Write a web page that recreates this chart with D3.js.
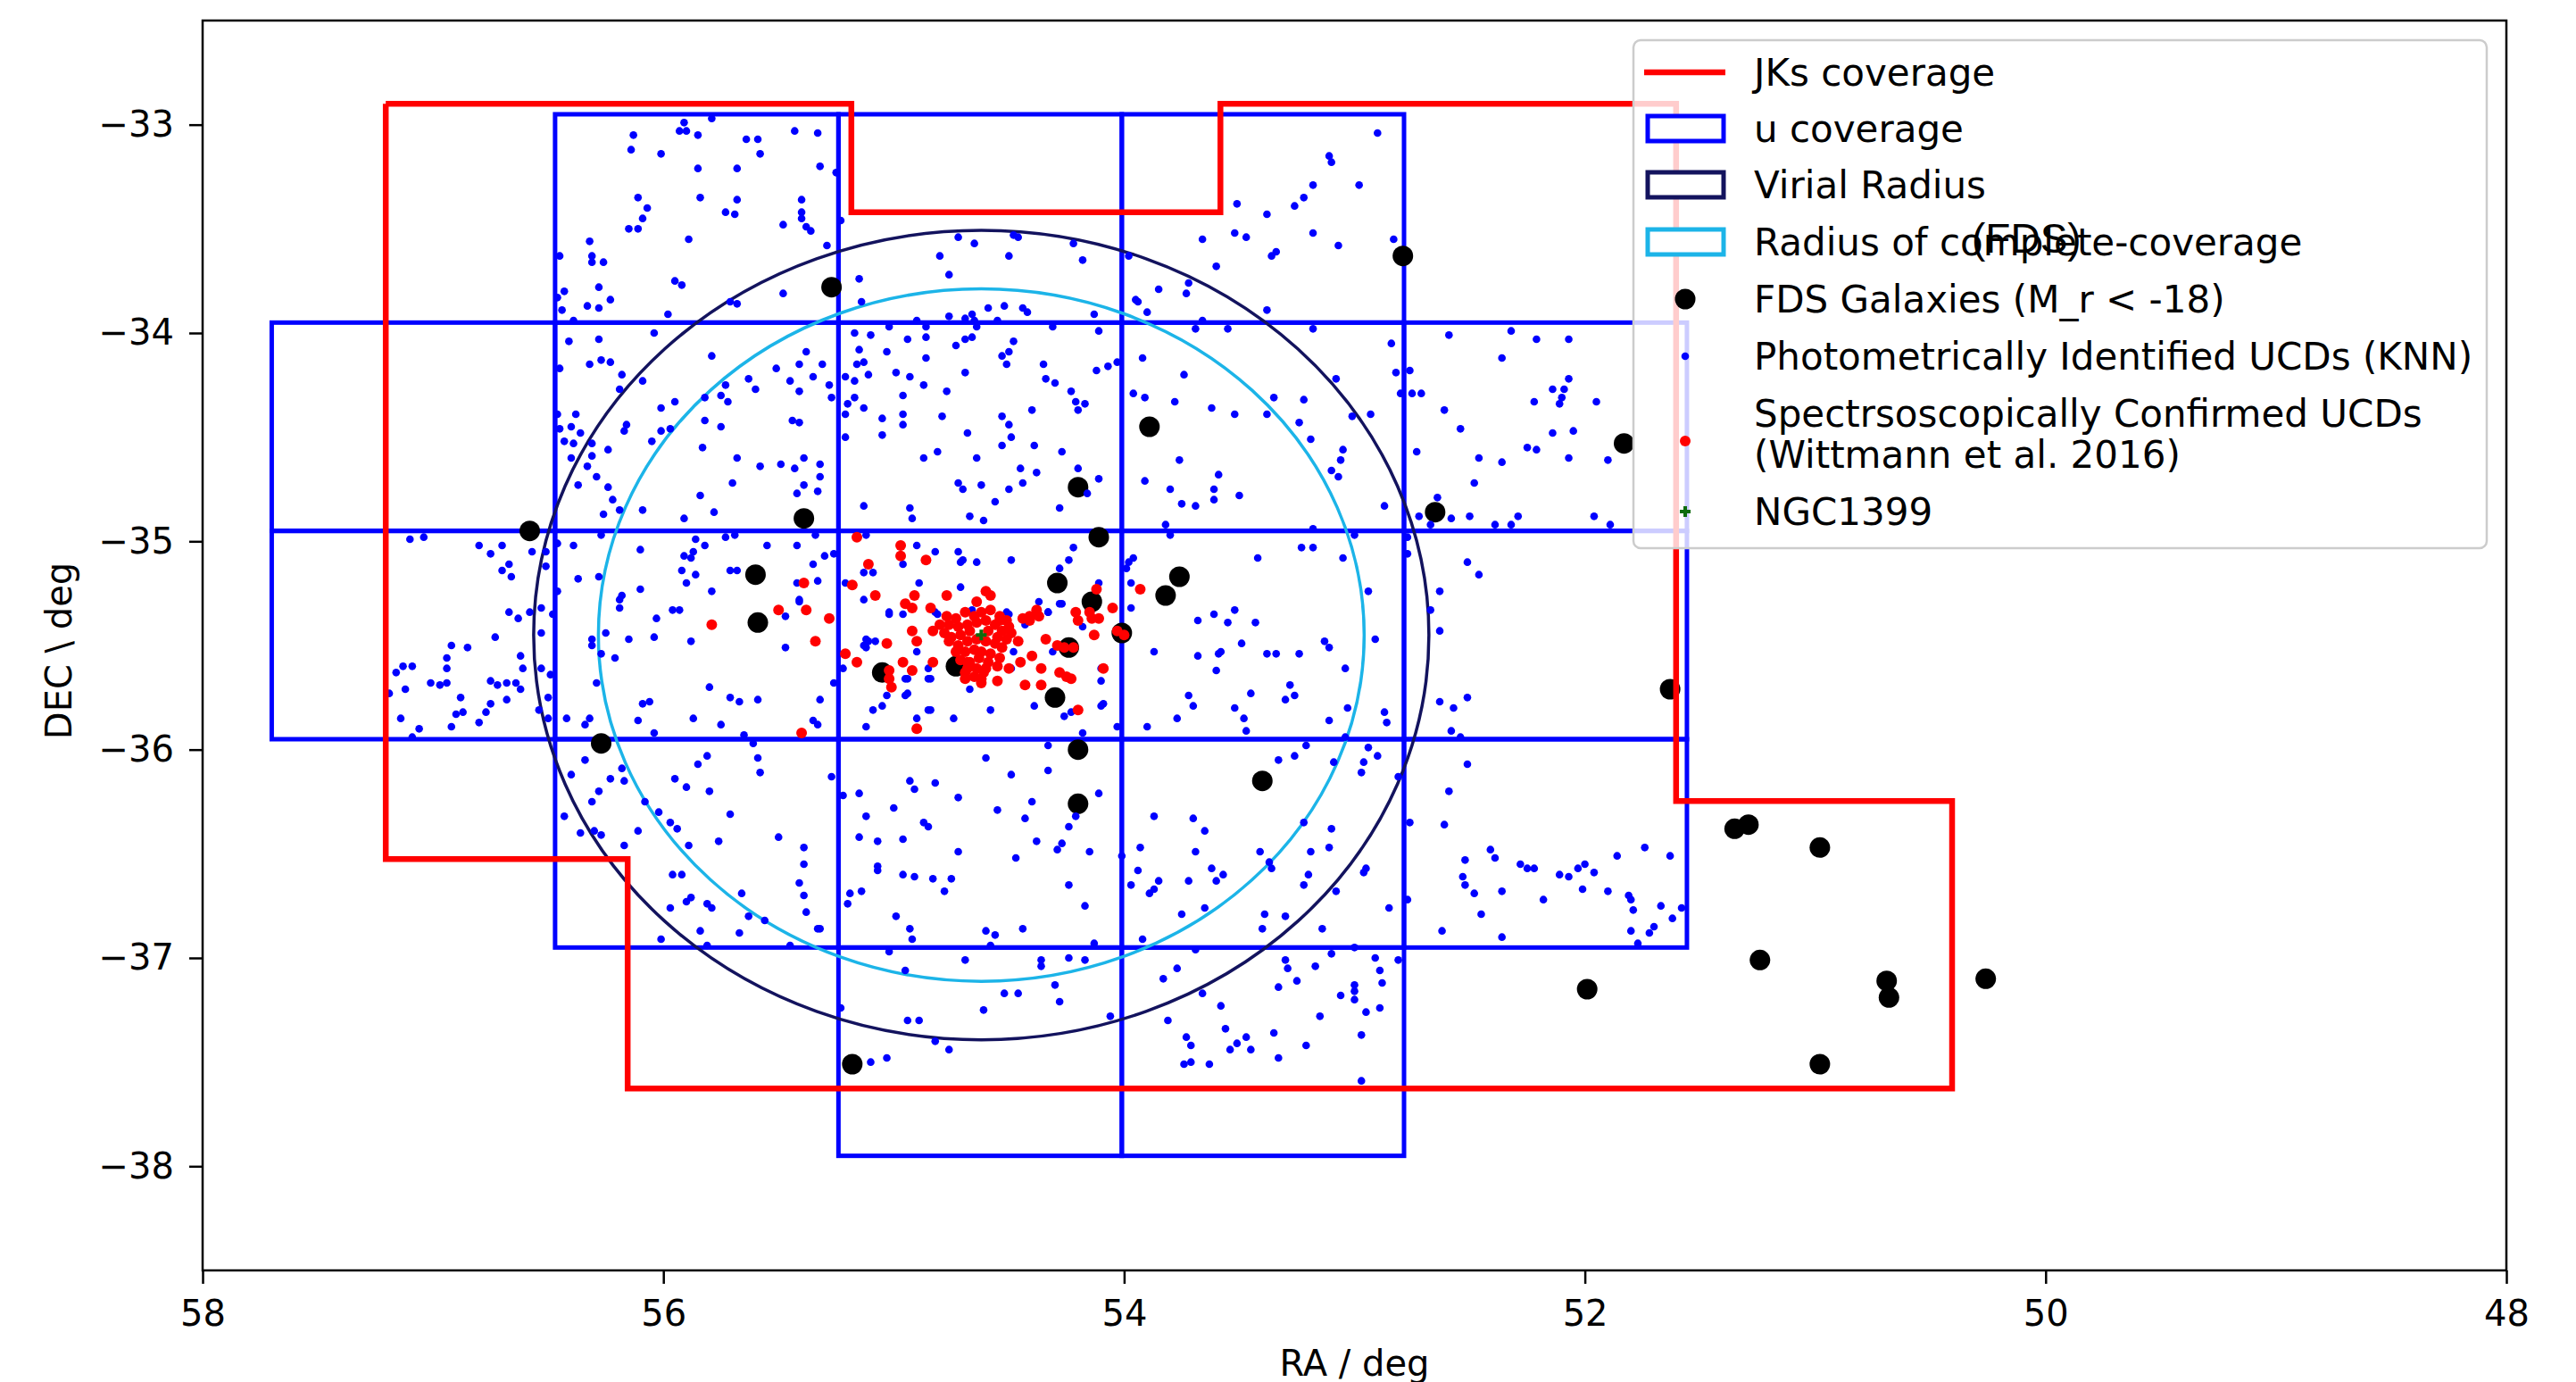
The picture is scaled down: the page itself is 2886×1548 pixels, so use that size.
<!DOCTYPE html>
<html>
<head>
<meta charset="utf-8">
<script src="https://cdn.jsdelivr.net/npm/d3@7"></script>
<style>
body { margin: 0; background: #fff; }
svg text { font-family: "DejaVu Sans", sans-serif; fill: #000; }
</style>
</head>
<body>
<svg id="chart"></svg>
<script>
// ---- data (RA / Dec in degrees) ----
var xTicks = [58, 56, 54, 52, 50, 48];
var yTicks = [-33, -34, -35, -36, -37, -38];

// JKs coverage outline
var jksRA  = [57.205, 55.184, 55.184, 53.582, 53.582, 51.604, 51.604, 50.406, 50.406, 56.155, 56.155, 57.205, 57.205];
var jksDec = [-32.90, -32.90, -33.42, -33.42, -32.90, -32.90, -36.247, -36.247, -37.627, -37.627, -36.525, -36.525, -32.90];

// u coverage tiles: column edges (RA) and row edges (Dec)
var uColEdges = [57.70, 56.47, 55.24, 54.01, 52.785, 51.557];
var uRowEdges = [-32.95, -33.95, -34.95, -35.95, -36.95, -37.95];
var uTiles = [[1,0],[2,0],[3,0],
              [0,1],[1,1],[2,1],[3,1],[4,1],
              [0,2],[1,2],[2,2],[3,2],[4,2],
              [1,3],[2,3],[3,3],[4,3],
              [2,4],[3,4]];

var ngc1399 = [54.62, -35.45];
var virialRadius = 1.943;
var completeRadius = 1.662;

var galaxies = [[56.58,-34.95],[55.27,-33.78],[52.79,-33.63],[53.89,-34.45],[51.83,-34.53],[54.20,-34.74],[52.65,-34.86],
  [55.39,-34.89],[54.11,-34.98],[55.60,-35.16],[55.59,-35.39],[54.29,-35.20],[53.76,-35.17],[53.82,-35.26],[54.14,-35.29],
  [54.01,-35.44],[54.24,-35.51],[55.05,-35.63],[54.73,-35.60],[54.30,-35.75],[51.63,-35.71],[56.27,-35.97],[54.20,-36.00],
  [53.40,-36.15],[54.20,-36.26],[51.35,-36.38],[51.29,-36.36],[50.98,-36.47],[51.99,-37.15],[51.24,-37.01],[50.69,-37.11],
  [50.68,-37.19],[50.26,-37.10],[50.98,-37.51],[55.18,-37.51]];

var photUCDs = [
  [55.91,-32.99],[55.79,-32.97],[55.93,-33.03],[55.90,-33.03],[55.85,-33.05],[56.13,-33.05],[56.14,-33.12],[56.01,-33.14],[55.64,-33.07],[55.59,-33.07],
  [55.58,-33.14],[55.43,-33.03],[55.33,-33.04],[55.85,-33.21],[55.68,-33.21],[55.32,-33.20],[56.11,-33.35],[56.07,-33.40],[56.09,-33.45],[56.15,-33.50],
  [56.11,-33.50],[55.84,-33.35],[55.68,-33.36],[55.73,-33.42],[55.69,-33.43],[55.40,-33.36],[55.40,-33.42],[55.40,-33.45],[55.38,-33.49],[55.36,-33.51],
  [55.48,-33.48],[56.32,-33.56],[55.89,-33.55],[56.31,-33.63],[56.31,-33.66],[56.26,-33.66],[56.45,-33.63],[55.95,-33.75],[55.92,-33.77],[55.48,-33.81],
  [56.28,-33.78],[56.43,-33.80],[56.46,-33.83],[56.44,-33.89],[56.33,-33.87],[56.28,-33.88],[56.23,-33.84],[55.98,-33.91],[55.71,-33.85],[55.68,-33.86],
  [56.39,-33.94],
  [56.04,-34.00],[56.41,-34.04],[56.28,-34.03],[55.79,-34.11],[55.38,-34.09],[56.32,-34.15],[56.27,-34.13],[56.23,-34.14],[56.45,-34.17],[55.51,-34.17],
  [55.41,-34.15],[55.35,-34.21],[56.18,-34.20],[56.09,-34.23],[55.63,-34.22],[55.60,-34.27],[55.45,-34.23],[55.41,-34.28],[55.73,-34.25],[56.19,-34.27],
  [55.82,-34.31],[55.75,-34.30],[55.72,-34.33],[56.01,-34.36],[55.95,-34.33],[56.46,-34.39],[56.38,-34.39],[56.40,-34.45],[56.45,-34.46],[56.36,-34.48],
  [56.43,-34.52],[56.39,-34.53],[56.16,-34.44],[56.17,-34.47],[56.01,-34.47],[55.97,-34.46],[55.82,-34.42],[55.75,-34.45],[55.44,-34.42],[55.41,-34.43],
  [56.31,-34.53],[56.05,-34.52],[55.83,-34.55],[56.31,-34.59],[56.24,-34.56],[56.40,-34.60],[55.68,-34.60],[55.58,-34.64],[55.49,-34.63],[55.43,-34.65],
  [55.39,-34.60],[55.32,-34.63],[56.33,-34.64],[56.29,-34.69],[56.37,-34.73],[56.24,-34.74],[55.70,-34.72],[55.39,-34.73],[55.33,-34.76],[55.42,-34.77],
  [56.22,-34.80],[56.19,-34.85],[56.26,-34.87],[56.09,-34.85],[55.84,-34.78],[55.78,-34.86],[55.91,-34.89],
  [57.10,-34.99],[57.04,-34.98],[56.80,-35.02],[56.75,-35.06],[56.70,-35.02],[56.57,-35.05],[56.51,-35.05],[56.67,-35.11],[56.70,-35.14],[56.66,-35.17],
  [56.51,-35.12],[56.46,-35.01],[56.27,-34.97],[56.39,-35.02],[56.46,-35.24],[56.37,-35.18],[56.28,-35.17],[56.10,-35.04],[56.10,-35.23],[56.18,-35.26],
  [55.86,-34.99],[55.82,-35.02],[55.87,-35.05],[55.91,-35.07],[55.88,-35.08],[55.92,-35.14],[55.86,-35.16],[55.90,-35.20],[55.79,-35.24],[55.73,-34.98],
  [55.69,-34.97],[55.55,-35.02],[55.42,-35.02],[55.71,-35.14],[55.68,-35.14],[55.35,-35.11],[55.42,-35.20],[55.33,-35.19],[55.34,-34.97],[55.41,-35.28],
  [55.29,-33.58],[55.25,-33.23],[55.31,-34.15],[55.28,-34.25],[55.27,-34.31],[55.32,-34.69],[55.30,-35.07],
  [55.23,-33.46],[55.15,-33.74],[55.14,-33.85],[54.72,-33.54],[54.65,-33.57],[54.80,-33.63],[54.76,-33.72],[54.50,-33.63],[54.48,-33.53],[54.46,-33.54],
  [54.22,-33.57],[54.18,-33.65],[53.98,-33.63],[53.66,-33.55],[53.60,-33.68],[53.51,-33.38],[53.52,-33.52],[53.47,-33.54],[53.72,-33.76],[53.73,-33.81],
  [53.85,-33.79],[53.95,-33.84],[53.94,-33.85],[53.90,-33.90],[54.13,-33.91],[54.59,-33.88],[54.52,-33.87],[54.44,-33.88],[54.42,-33.90],[54.66,-33.91],
  [54.69,-33.93],[54.65,-33.94],[54.76,-33.92],[54.90,-33.94],[54.55,-33.94],
  [55.02,-33.97],[54.86,-33.97],[54.64,-33.97],[54.31,-33.97],[54.11,-33.99],[53.69,-33.98],[53.55,-33.98],[53.66,-33.94],[55.17,-34.00],[55.10,-34.01],
  [54.94,-34.03],[54.86,-34.02],[54.69,-34.03],[54.66,-34.02],[54.73,-34.06],[54.48,-34.04],[55.15,-34.08],[55.03,-34.09],[54.86,-34.12],[54.53,-34.11],
  [54.50,-34.09],[54.51,-34.15],[55.16,-34.15],[55.13,-34.14],[55.11,-34.20],[54.99,-34.19],[54.93,-34.21],[54.69,-34.19],[54.35,-34.15],[54.12,-34.18],
  [54.07,-34.16],[54.03,-34.14],[53.92,-34.12],[53.74,-34.20],[55.21,-34.21],[55.17,-34.23],[54.87,-34.25],[54.77,-34.28],[54.34,-34.22],[54.30,-34.24],
  [54.23,-34.28],[54.21,-34.33],[54.17,-34.34],[54.20,-34.37],[53.96,-34.29],[53.91,-34.31],[53.78,-34.33],[53.62,-34.36],[53.52,-34.39],[54.96,-34.30],
  [55.17,-34.31],[55.20,-34.34],[55.13,-34.36],[55.21,-34.39],[55.05,-34.41],[54.96,-34.39],[54.96,-34.44],[54.79,-34.40],[55.05,-34.49],[55.21,-34.50],
  [54.53,-34.40],[54.50,-34.44],[54.40,-34.37],[54.68,-34.48],[54.49,-34.50],[54.53,-34.54],[54.39,-34.54],[54.27,-34.57],[54.81,-34.57],[54.87,-34.60],
  [54.64,-34.60],[53.76,-34.61],[54.45,-34.65],[54.38,-34.67],[54.20,-34.65],[54.11,-34.70],[53.91,-34.71],[53.59,-34.68],[54.72,-34.72],[54.70,-34.75],
  [54.62,-34.73],[54.50,-34.75],[54.44,-34.72],[54.16,-34.77],[53.80,-34.75],[53.61,-34.75],[53.61,-34.80],[53.50,-34.78],[54.56,-34.81],[55.13,-34.83],
  [54.93,-34.84],[54.92,-34.89],[54.67,-34.88],[54.61,-34.90],[54.28,-34.84],[53.75,-34.82],[53.69,-34.83],[53.82,-34.92],[53.80,-34.97],
  [55.12,-34.97],[54.90,-35.02],[54.82,-35.05],[54.72,-35.05],[54.70,-35.09],[54.64,-35.10],[54.49,-35.09],[54.22,-35.03],[54.24,-35.09],[54.28,-35.13],
  [54.96,-35.11],[55.13,-35.15],[55.09,-35.15],[55.21,-35.20],[54.89,-35.20],[54.71,-35.22],[54.11,-35.20],[53.96,-35.08],[53.98,-35.10],[53.97,-35.20],
  [52.90,-33.04],[53.11,-33.15],[53.10,-33.18],[53.18,-33.29],[52.98,-33.29],[53.22,-33.35],[53.26,-33.39],[53.38,-33.43],[53.18,-33.52],[53.07,-33.58],
  [53.36,-33.63],[53.34,-33.61],[52.83,-33.55],[53.38,-33.89],[53.18,-33.98],[52.84,-34.05],[52.59,-34.01],[52.32,-33.99],[52.21,-34.03],[52.07,-34.03],
  [52.36,-34.12],[52.82,-34.19],[52.76,-34.18],[53.08,-34.22],[52.07,-34.22],[52.80,-34.29],[52.75,-34.29],[52.71,-34.29],[53.35,-34.31],[53.22,-34.32],
  [52.14,-34.27],[52.09,-34.27],[52.10,-34.31],[52.11,-34.34],[52.22,-34.33],[51.95,-34.33],[52.61,-34.37],[53.38,-34.39],[53.24,-34.43],[53.01,-34.40],
  [52.93,-34.39],[52.54,-34.46],[52.14,-34.48],[52.05,-34.47],[53.19,-34.51],[53.05,-34.56],[53.06,-34.61],[53.10,-34.66],[53.07,-34.69],[52.73,-34.57],
  [52.46,-34.60],[52.36,-34.62],[52.25,-34.55],[52.21,-34.56],[52.07,-34.60],[51.90,-34.61],[52.48,-34.72],[52.87,-34.83],[52.64,-34.79],[52.72,-34.88],
  [52.67,-34.92],[52.58,-34.89],[52.50,-34.88],[52.39,-34.92],[52.32,-34.92],[52.29,-34.88],[51.96,-34.88],[51.89,-34.92],[53.18,-34.94],[53.00,-34.97],
  [53.23,-35.03],[53.18,-35.03],[53.42,-35.08],[53.05,-35.08],[52.77,-34.98],[52.77,-35.06],[52.51,-35.10],[52.46,-35.16],[52.94,-35.24],[52.63,-35.24],
  [56.67,-35.34],[56.63,-35.37],[56.58,-35.34],[56.53,-35.32],[56.48,-35.35],[56.92,-35.50],[56.85,-35.51],[56.73,-35.46],[56.62,-35.55],[56.94,-35.56],
  [56.94,-35.61],[57.13,-35.60],[57.09,-35.60],[57.16,-35.63],[56.53,-35.44],[56.61,-35.61],[56.53,-35.61],[56.49,-35.64],[57.01,-35.68],[56.97,-35.69],
  [56.94,-35.68],[57.12,-35.71],[57.19,-35.73],[56.75,-35.67],[56.72,-35.69],[56.68,-35.68],[56.64,-35.68],[56.62,-35.71],[56.88,-35.75],[56.68,-35.76],
  [56.50,-35.75],[56.75,-35.78],[56.77,-35.82],[56.90,-35.83],[56.87,-35.82],[57.14,-35.85],[57.06,-35.90],[56.92,-35.89],[56.80,-35.87],[56.54,-35.81],
  [56.50,-35.85],[57.09,-35.94],[56.42,-35.85],[56.32,-35.85],[56.34,-35.88],[56.31,-35.47],[56.25,-35.44],[56.31,-35.50],[56.27,-35.54],[56.21,-35.56],
  [56.29,-35.68],[56.19,-35.32],[56.19,-35.28],[56.15,-35.47],[56.04,-35.46],[56.03,-35.37],[55.96,-35.33],[55.93,-35.33],[55.88,-35.48],[55.80,-35.70],
  [56.09,-35.78],[56.06,-35.77],[56.11,-35.86],[55.87,-35.85],[55.75,-35.88],[55.71,-35.75],[55.67,-35.77],[55.59,-35.76],[55.47,-35.51],[55.32,-35.76],
  [55.35,-35.86],[55.33,-35.88],[56.04,-35.92],[55.65,-35.93],[55.61,-35.97],[55.59,-36.04],[55.58,-36.11],[56.34,-36.05],[56.40,-36.12],[56.23,-36.14],
  [56.18,-36.09],[56.17,-36.15],[56.28,-36.20],[56.31,-36.25],[56.43,-36.32],[56.36,-36.40],[56.30,-36.39],[56.27,-36.41],[56.11,-36.39],[56.17,-36.46],
  [56.08,-36.25],[56.02,-36.30],[55.97,-36.35],[55.94,-36.38],[55.89,-36.46],[55.76,-36.44],[55.95,-36.14],[55.90,-36.18],[55.80,-36.20],[55.85,-36.07],
  [55.81,-36.03],[55.71,-36.31],[55.50,-36.42],[55.39,-36.47],[55.39,-36.55],[55.41,-36.64],[55.39,-36.70],[55.38,-36.78],[55.33,-36.86],[55.96,-36.60],
  [55.92,-36.60],[55.90,-36.73],[55.88,-36.71],[55.97,-36.76],[55.81,-36.74],[55.79,-36.76],[55.66,-36.69],[55.63,-36.80],[55.56,-36.82],[55.84,-36.87],
  [55.67,-36.88],[56.01,-36.91],[55.81,-36.94],[55.45,-36.94],[55.47,-35.36],
  [55.13,-35.28],[55.02,-35.35],[54.96,-35.35],[54.81,-35.35],[54.66,-35.33],[54.50,-35.35],[54.37,-35.29],[54.33,-35.34],[54.27,-35.30],[53.97,-35.32],
  [53.68,-35.38],[53.61,-35.35],[53.55,-35.39],[53.52,-35.33],[53.49,-35.49],[53.87,-35.53],[53.68,-35.55],[53.59,-35.54],[53.60,-35.62],[53.72,-35.74],
  [53.70,-35.79],[53.52,-35.80],[53.45,-35.73],[53.48,-35.85],[53.47,-35.91],[53.77,-35.85],[53.90,-35.89],[54.03,-35.89],[54.10,-35.67],[54.10,-35.79],
  [54.26,-35.84],[54.23,-35.82],[54.39,-35.79],[54.31,-35.53],[54.58,-35.81],[54.67,-35.71],[54.74,-35.85],[54.85,-35.81],[54.90,-35.85],[54.85,-35.66],
  [54.90,-35.53],[54.95,-35.66],[54.95,-35.74],[55.03,-35.74],[55.05,-35.79],[55.09,-35.81],[55.12,-35.89],[55.26,-35.68],[55.22,-35.61],[55.13,-35.50],
  [55.08,-35.48],[54.18,-35.92],[54.33,-35.98],[54.60,-36.04],[54.49,-36.12],[54.33,-36.10],[55.27,-36.13],[55.15,-36.21],[55.22,-36.22],[54.93,-36.15],
  [54.91,-36.19],[54.82,-36.16],[54.72,-36.23],[54.55,-36.29],[54.40,-36.25],[54.11,-36.21],[55.00,-36.28],[55.12,-36.32],[54.87,-36.35],[54.85,-36.37],
  [54.43,-36.33],[54.24,-36.37],[54.21,-36.32],[55.15,-36.42],[55.07,-36.44],[54.96,-36.43],[54.72,-36.49],[54.47,-36.52],[54.38,-36.44],[54.27,-36.45],
  [54.29,-36.48],[54.15,-36.49],[54.01,-36.51],[53.93,-36.47],[53.87,-36.32],[53.70,-36.33],[53.65,-36.39],[53.69,-36.49],[55.07,-36.56],[55.07,-36.58],
  [54.96,-36.60],[54.91,-36.61],[54.83,-36.62],[54.75,-36.62],[54.78,-36.68],[54.24,-36.65],[53.94,-36.58],[53.97,-36.65],[53.85,-36.63],[53.89,-36.69],
  [53.87,-36.67],[53.72,-36.63],[53.62,-36.57],[53.60,-36.63],[53.57,-36.60],[55.19,-36.69],[55.14,-36.68],[55.20,-36.74],[54.17,-36.75],[53.65,-36.76],
  [53.75,-36.79],[54.99,-36.80],[54.93,-36.86],[54.92,-36.91],[54.60,-36.87],[54.56,-36.89],[54.44,-36.86],[55.32,-36.86],[53.92,-36.91],[55.02,-36.97],
  [54.58,-36.94],[54.13,-36.93],[53.69,-36.96],[54.69,-37.01],[54.36,-37.01],[54.36,-37.04],[54.24,-37.00],[54.17,-37.01],[54.95,-37.06],[53.83,-37.10],
  [53.77,-37.05],[54.30,-37.13],[54.52,-37.17],[54.46,-37.17],[53.66,-37.17],[54.28,-37.21],[53.58,-37.23],[54.61,-37.25],[55.23,-37.24],[54.94,-37.30],
  [54.89,-37.30],[54.06,-37.28],[53.81,-37.30],[53.56,-37.34],[54.82,-37.40],[54.76,-37.44],[53.73,-37.38],[53.71,-37.42],[53.51,-37.41],[53.47,-37.38],
  [53.54,-37.44],[53.45,-37.44],[55.10,-37.50],[55.03,-37.48],[53.74,-37.51],[53.71,-37.50],[53.63,-37.51],
  [53.43,-35.39],[53.38,-35.54],[53.34,-35.54],[53.24,-35.54],[53.13,-35.48],[53.11,-35.51],[52.91,-35.47],[53.04,-35.61],[53.28,-35.69],[53.26,-35.74],
  [53.30,-35.76],[53.03,-35.80],[53.11,-35.86],[52.87,-35.82],[52.86,-35.87],[52.67,-35.33],[52.63,-35.43],[52.63,-35.77],[52.57,-35.80],[52.51,-35.75],
  [52.58,-35.91],[52.54,-35.94],[53.04,-35.94],[53.21,-35.98],[52.94,-35.99],[52.90,-36.03],[53.26,-36.03],[53.33,-36.05],[53.09,-36.06],[52.96,-36.06],
  [52.97,-36.11],[52.81,-36.13],[52.51,-36.07],[52.59,-36.20],[52.76,-36.35],[52.61,-36.36],[53.22,-36.35],[53.10,-36.38],[53.11,-36.47],[53.41,-36.49],
  [53.19,-36.49],[53.37,-36.54],[53.36,-36.57],[53.20,-36.60],[53.22,-36.65],[52.96,-36.59],[52.95,-36.57],[53.08,-36.68],[52.85,-36.76],[53.39,-36.79],
  [53.30,-36.80],[53.40,-36.86],[53.14,-36.86],[52.77,-36.72],[52.41,-36.48],[52.39,-36.52],[52.52,-36.53],[52.53,-36.61],[52.52,-36.65],[52.48,-36.69],
  [52.36,-36.68],[52.45,-36.79],[52.62,-36.87],[52.36,-36.90],[52.28,-36.55],[52.25,-36.57],[52.22,-36.57],[52.18,-36.72],[52.11,-36.60],[52.07,-36.61],
  [52.03,-36.57],[52.00,-36.55],[51.96,-36.59],[52.01,-36.67],[51.90,-36.68],[51.86,-36.51],[51.74,-36.47],[51.63,-36.51],[51.81,-36.70],[51.80,-36.72],
  [51.79,-36.77],[51.67,-36.75],[51.62,-36.81],[51.58,-36.76],[51.80,-36.87],[51.70,-36.85],[51.72,-36.88],[51.77,-36.93],[53.10,-36.98],[53.00,-36.95],
  [52.91,-37.00],[52.81,-37.01],[53.30,-37.01],[53.29,-37.05],[53.17,-37.04],[52.89,-37.06],[53.25,-37.11],[53.33,-37.14],[53.00,-37.13],[52.88,-37.12],
  [53.06,-37.18],[53.00,-37.16],[53.00,-37.20],[52.95,-37.26],[52.89,-37.24],[53.15,-37.28],[53.35,-37.36],[52.97,-37.37],[53.21,-37.42],[53.33,-37.48],
  [52.97,-37.59],
  [55.02,-35.34],[54.82,-35.34],[54.51,-35.34],[54.33,-35.34],[54.28,-35.30],[55.11,-35.48],[55.12,-35.51],[54.85,-35.61],[54.84,-35.66],[54.94,-35.66],
  [54.94,-35.73],[54.84,-35.81],[54.48,-35.53],[54.49,-35.61],[54.43,-35.40],[54.18,-35.41],[54.10,-35.61],[54.09,-35.78],[53.99,-35.13],[53.58,-35.53],
  [55.26,-35.06],[55.41,-35.29],[55.12,-35.47],[54.71,-35.10]
];

var specUCDs = [
  [55.16,-34.98],[54.97,-35.02],[54.97,-35.07],[54.86,-35.09],[55.11,-35.11],[55.08,-35.26],[55.18,-35.21],[55.38,-35.33],[55.28,-35.37],[55.34,-35.48],
  [54.91,-35.26],[54.95,-35.30],[54.92,-35.32],[54.84,-35.32],[54.77,-35.26],[54.60,-35.24],[54.58,-35.26],[54.64,-35.29],[54.92,-35.43],[54.90,-35.48],
  [54.83,-35.43],[55.03,-35.49],[55.21,-35.54],[55.16,-35.58],[54.96,-35.58],[54.92,-35.62],[54.83,-35.58],[55.02,-35.62],[55.01,-35.70],[55.02,-35.66],
  [54.68,-35.58],[54.69,-35.63],[54.61,-35.63],[54.62,-35.68],[54.55,-35.67],[54.50,-35.61],[54.45,-35.58],[54.43,-35.69],[54.36,-35.69],[54.36,-35.61],
  [54.40,-35.55],[54.34,-35.47],[54.46,-35.48],[54.49,-35.44],[54.54,-35.38],[54.50,-35.41],[54.44,-35.37],[54.41,-35.36],[54.38,-35.33],[54.37,-35.36],
  [54.41,-35.38],[54.29,-35.50],[54.26,-35.51],[54.22,-35.51],[54.28,-35.63],[54.25,-35.65],[54.23,-35.66],[54.20,-35.81],[54.13,-35.45],[54.09,-35.61],
  [54.03,-35.43],[54.00,-35.45],[54.05,-35.32],[54.21,-35.34],[54.20,-35.38],[54.15,-35.34],[54.14,-35.37],[54.11,-35.37],[54.12,-35.23],[53.93,-35.23],
  [54.90,-35.90],[55.79,-35.40],[55.50,-35.33],[55.39,-35.20],[55.40,-35.92],
  [54.77,-35.36],[54.73,-35.37],[54.69,-35.34],[54.65,-35.36],[54.62,-35.34],[54.58,-35.33],[54.54,-35.36],[54.51,-35.38],
  [54.80,-35.40],[54.76,-35.40],[54.72,-35.41],[54.68,-35.40],[54.64,-35.39],[54.60,-35.38],[54.56,-35.40],[54.53,-35.43],
  [54.78,-35.44],[54.75,-35.46],[54.71,-35.45],[54.67,-35.43],[54.59,-35.43],[54.55,-35.46],[54.51,-35.47],
  [54.76,-35.48],[54.72,-35.50],[54.68,-35.48],[54.64,-35.47],[54.60,-35.48],[54.56,-35.49],[54.53,-35.51],
  [54.73,-35.53],[54.69,-35.53],[54.65,-35.52],[54.62,-35.53],[54.58,-35.54],[54.54,-35.56],
  [54.71,-35.57],[54.67,-35.58],[54.63,-35.56],[54.59,-35.58],[54.55,-35.60],
  [54.68,-35.61],[54.64,-35.61],[54.60,-35.61],[54.65,-35.65],[54.62,-35.66],[54.69,-35.66]
];

// ---- layout ----
var W = 2886, H = 1548;
var margin = {top: 23, right: 78, bottom: 125, left: 227};
var width = W - margin.left - margin.right;
var height = H - margin.top - margin.bottom;

var blue = "#0000ff", red = "#ff0000", navy = "#13135e", cyan = "#1cb4e8", green = "#0d6b0d";

var svg = d3.select("#chart").attr("width", W).attr("height", H);
var g = svg.append("g").attr("transform", "translate(" + margin.left + "," + margin.top + ")");

var x = d3.scaleLinear().domain([58, 48]).range([0, width]);
var y = d3.scaleLinear().domain([-32.5, -38.5]).range([0, height]);

g.append("clipPath").attr("id", "plotclip")
  .append("rect").attr("width", width).attr("height", height);
var plot = g.append("g").attr("clip-path", "url(#plotclip)");

// u coverage tiles
plot.selectAll(".tile").data(uTiles).enter().append("rect")
  .attr("class", "tile")
  .attr("x", function(d) { return x(uColEdges[d[0]]); })
  .attr("y", function(d) { return y(uRowEdges[d[1]]); })
  .attr("width", function(d) { return x(uColEdges[d[0] + 1]) - x(uColEdges[d[0]]); })
  .attr("height", function(d) { return y(uRowEdges[d[1] + 1]) - y(uRowEdges[d[1]]); })
  .attr("fill", "none").attr("stroke", blue).attr("stroke-width", 5);

// radii around NGC1399 (circles in data units)
function ring(r, col) {
  plot.append("ellipse")
    .attr("cx", x(ngc1399[0])).attr("cy", y(ngc1399[1]))
    .attr("rx", Math.abs(x(ngc1399[0] + r) - x(ngc1399[0])))
    .attr("ry", Math.abs(y(ngc1399[1] - r) - y(ngc1399[1])))
    .attr("fill", "none").attr("stroke", col).attr("stroke-width", 3.5);
}
ring(virialRadius, navy);
ring(completeRadius, cyan);

// FDS galaxies
plot.selectAll(".gal").data(galaxies).enter().append("circle")
  .attr("cx", function(d) { return x(d[0]); })
  .attr("cy", function(d) { return y(d[1]); })
  .attr("r", 11.5).attr("fill", "#000");

// photometric UCDs
plot.selectAll(".phot").data(photUCDs).enter().append("circle")
  .attr("cx", function(d) { return x(d[0]); })
  .attr("cy", function(d) { return y(d[1]); })
  .attr("r", 4.3).attr("fill", blue);

// spectroscopic UCDs
plot.selectAll(".spec").data(specUCDs).enter().append("circle")
  .attr("cx", function(d) { return x(d[0]); })
  .attr("cy", function(d) { return y(d[1]); })
  .attr("r", 6).attr("fill", red);

// NGC1399 marker
function plus(sel, cx, cy) {
  sel.append("path")
    .attr("d", "M" + (cx - 6) + "," + cy + "H" + (cx + 6) + "M" + cx + "," + (cy - 6) + "V" + (cy + 6))
    .attr("stroke", green).attr("stroke-width", 4);
}
plus(plot, x(ngc1399[0]), y(ngc1399[1]));

// JKs coverage outline
var jksLine = d3.line()
  .x(function(d, i) { return x(jksRA[i]); })
  .y(function(d, i) { return y(jksDec[i]); });
plot.append("path").datum(jksRA)
  .attr("d", jksLine)
  .attr("fill", "none").attr("stroke", red).attr("stroke-width", 6.5)
  .attr("stroke-linejoin", "miter");

// axes
var fmt = function(d) { return d < 0 ? "\u2212" + Math.abs(d) : String(d); };
var xAxis = g.append("g").attr("transform", "translate(0," + height + ")")
  .call(d3.axisBottom(x).tickValues(xTicks).tickFormat(fmt).tickSize(15).tickPadding(19));
var yAxis = g.append("g")
  .call(d3.axisLeft(y).tickValues(yTicks).tickFormat(fmt).tickSize(15).tickPadding(17));
[xAxis, yAxis].forEach(function(a) {
  a.select(".domain").remove();
  a.selectAll(".tick line").attr("stroke", "#000").attr("stroke-width", 2.5);
  a.selectAll(".tick text").attr("font-size", 40).attr("font-family", "DejaVu Sans").attr("fill", "#000");
});

g.append("rect").attr("width", width).attr("height", height)
  .attr("fill", "none").attr("stroke", "#000").attr("stroke-width", 2.5);

// axis labels
svg.append("text")
  .attr("x", margin.left + width / 2).attr("y", 1541)
  .attr("text-anchor", "middle").attr("font-size", 40)
  .text("RA / deg");
svg.append("text")
  .attr("transform", "translate(80," + (margin.top + height / 2 + 6) + ") rotate(-90)")
  .attr("text-anchor", "middle").attr("font-size", 40)
  .text("DEC \\ deg");

// legend
var leg = svg.append("g");
leg.append("rect")
  .attr("x", 1830).attr("y", 45).attr("width", 956).attr("height", 569).attr("rx", 8)
  .attr("fill", "#fff").attr("fill-opacity", 0.8)
  .attr("stroke", "#cccccc").attr("stroke-width", 2.5);

var hx = 1888, tx = 1965;
var rows = [
  {kind: "line", color: red, cy: 81, text: ["JKs coverage"]},
  {kind: "patch", color: blue, cy: 144, text: ["u coverage"]},
  {kind: "patch", color: navy, cy: 207, text: ["Virial Radius"]},
  {kind: "patch", color: cyan, cy: 271, text: ["Radius of complete-coverage"]},
  {kind: "dot", color: "#000", r: 11.5, cy: 335, text: ["FDS Galaxies (M_r < -18)"]},
  {kind: "dot", color: blue, r: 4.3, cy: 399, text: ["Photometrically Identified UCDs (KNN)"]},
  {kind: "dot", color: red, r: 6, cy: 494, text: ["Spectrsoscopically Confirmed UCDs", "(Wittmann et al. 2016)"], ty: [463, 509]},
  {kind: "plus", color: green, cy: 573, text: ["NGC1399"]}
];
rows.forEach(function(r) {
  if (r.kind === "line") {
    leg.append("line").attr("x1", 1842).attr("x2", 1933).attr("y1", r.cy).attr("y2", r.cy)
      .attr("stroke", r.color).attr("stroke-width", 6.5);
  } else if (r.kind === "patch") {
    leg.append("rect").attr("x", 1846).attr("y", r.cy - 14).attr("width", 85).attr("height", 28)
      .attr("fill", "#fff").attr("stroke", r.color).attr("stroke-width", 5);
  } else if (r.kind === "dot") {
    leg.append("circle").attr("cx", hx).attr("cy", r.cy).attr("r", r.r).attr("fill", r.color);
  } else {
    plus(leg, hx, r.cy);
  }
  var ys = r.ty || [r.cy];
  r.text.forEach(function(t, i) {
    leg.append("text").attr("x", tx).attr("y", ys[i] + 15).attr("font-size", 42).text(t);
  });
});

// stray label sitting over the legend
svg.append("text")
  .attr("x", 2209).attr("y", 283)
  .style("font-family", "'Liberation Sans', Arial, sans-serif")
  .attr("font-size", 46)
  .text("(FDS)");
</script>
</body>
</html>
